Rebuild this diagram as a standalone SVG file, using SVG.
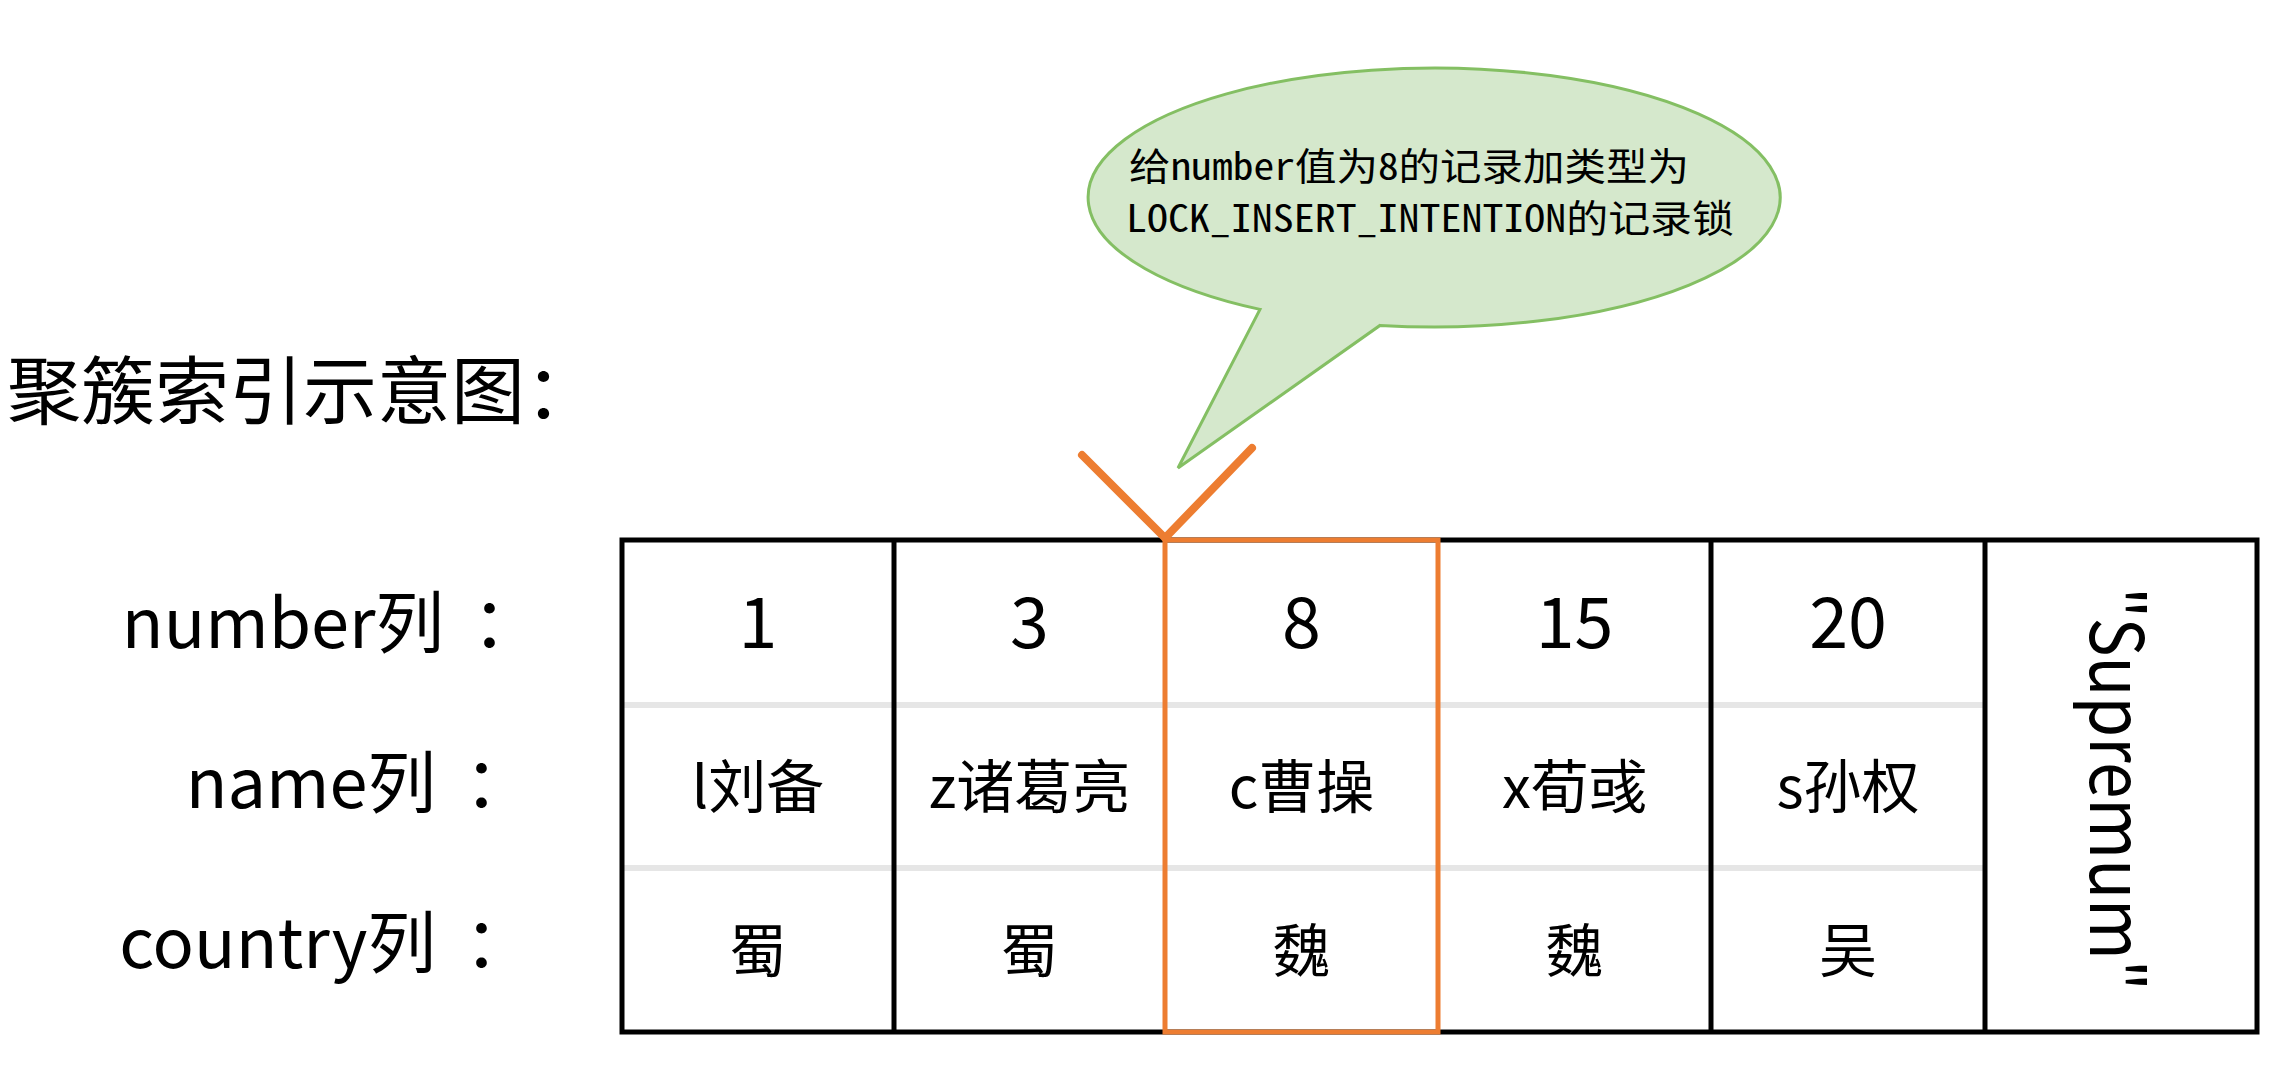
<svg xmlns="http://www.w3.org/2000/svg" width="2269" height="1069" viewBox="0 0 2269 1069">
<style>
  text { font-family: "Noto Sans CJK SC", "Microsoft YaHei", sans-serif; fill: #000; }
  .title { font-size: 74px; }
  .label { font-size: 68.5px; text-anchor: end; }
  .colon { font-size: 70px; }
  .num { font-size: 70px; text-anchor: middle; }
  .cell { font-size: 58px; text-anchor: middle; }
  .bub { font-family: "Noto Sans Mono CJK SC", "Noto Sans CJK SC", monospace; font-size: 38px; }
  .grid { stroke: #000; stroke-width: 5; fill: none; }
  .sep { stroke: #E6E6E6; stroke-width: 6; }
  .hl { stroke: #ED7D31; fill: none; }
</style>
<rect width="2269" height="1069" fill="#fff"/>

<g id="title">
  <text class="title" x="7" y="418">聚簇索引示意图：</text>
</g>

<g id="row-labels">
  <text class="label" x="444" y="648">number列</text>
  <text class="colon" x="472" y="648">：</text>
  <text class="label" x="436" y="808">name列</text>
  <text class="colon" x="464" y="808">：</text>
  <text class="label" x="436" y="968">country列</text>
  <text class="colon" x="464" y="968">：</text>
</g>

<g id="callout">
  <path d="M1260,309.4 L1178,468 L1380,325.4 A346,129.5 0 1 0 1260,309.4 Z" fill="#D5E8CC" stroke="#84BF63" stroke-width="3" stroke-linejoin="miter"/>
  <text class="bub" x="1129" y="180" textLength="560" lengthAdjust="spacingAndGlyphs">给number值为8的记录加类型为</text>
  <text class="bub" x="1126" y="232" textLength="608" lengthAdjust="spacingAndGlyphs">LOCK_INSERT_INTENTION的记录锁</text>
</g>

<g id="table">
  <line class="sep" x1="622" y1="705" x2="1985" y2="705"/>
  <line class="sep" x1="622" y1="868" x2="1985" y2="868"/>
  <rect class="grid" x="622" y="540" width="1635" height="492" stroke-width="6"/>
  <line class="grid" x1="894" y1="540" x2="894" y2="1032"/>
  <line class="grid" x1="1711" y1="540" x2="1711" y2="1032"/>
  <line class="grid" x1="1985" y1="540" x2="1985" y2="1032"/>
</g>

<g id="col-1">
  <text class="num" x="758" y="648">1</text>
  <text class="cell" x="758" y="808">l刘备</text>
  <text class="cell" x="758" y="972">蜀</text>
</g>
<g id="col-3">
  <text class="num" x="1029.5" y="648">3</text>
  <text class="cell" x="1029.5" y="808">z诸葛亮</text>
  <text class="cell" x="1029.5" y="972">蜀</text>
</g>
<g id="col-8">
  <text class="num" x="1301.5" y="648">8</text>
  <text class="cell" x="1301.5" y="808">c曹操</text>
  <text class="cell" x="1301.5" y="972">魏</text>
</g>
<g id="col-15">
  <text class="num" x="1574.5" y="648">15</text>
  <text class="cell" x="1574.5" y="808">x荀彧</text>
  <text class="cell" x="1574.5" y="972">魏</text>
</g>
<g id="col-20">
  <text class="num" x="1848" y="648">20</text>
  <text class="cell" x="1848" y="808">s孙权</text>
  <text class="cell" x="1848" y="972">吴</text>
</g>
<g id="supremum">
  <text transform="translate(2090,789) rotate(90)" x="0" y="0" font-size="74" text-anchor="middle" textLength="404" lengthAdjust="spacingAndGlyphs">"Supremum"</text>
</g>

<g id="highlight">
  <rect class="hl" x="1165" y="540" width="273" height="492" stroke-width="5"/>
  <polyline class="hl" points="1082,455 1165,538 1252,448" stroke-width="8" stroke-linecap="round" stroke-linejoin="round"/>
</g>
</svg>
